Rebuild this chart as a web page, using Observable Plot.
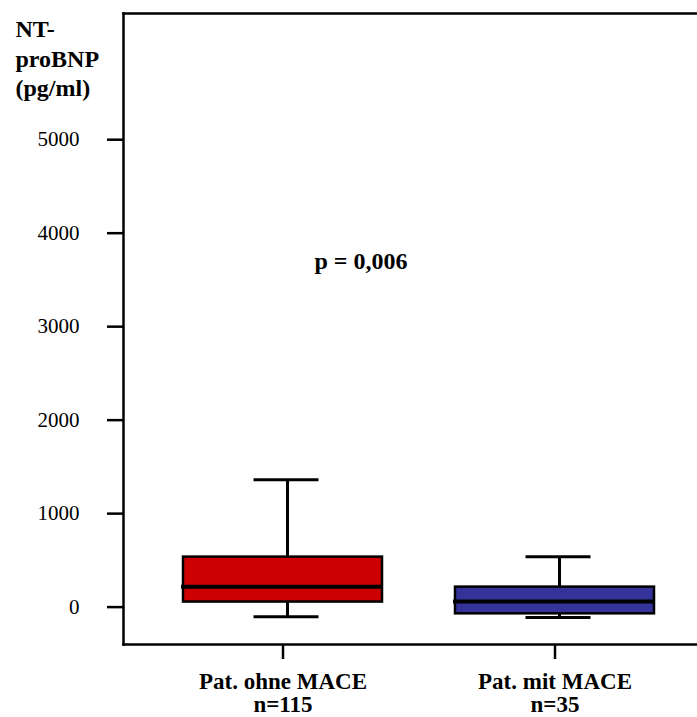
<!DOCTYPE html>
<html>
<head>
<meta charset="utf-8">
<script src="https://cdn.jsdelivr.net/npm/d3@7"></script>
<script src="https://cdn.jsdelivr.net/npm/@observablehq/plot@0.6"></script>
<style>
  html, body { margin: 0; padding: 0; background: #fff; }
</style>
</head>
<body>
<div id="chart"></div>
<script>
// NT-proBNP by outcome group: box plots (whiskers, quartiles, median)
const groups = ["Pat. ohne MACE", "Pat. mit MACE"];
const counts = [115, 35];
const whiskerLow = [-104, -110];
const q1 = [54, -72];
const median = [217, 61];
const q3 = [535, 214];
const whiskerHigh = [1363, 539];
const fills = ["#cc0000", "#333399"];
const yTicks = [0, 1000, 2000, 3000, 4000, 5000];
const yTitle = "NT-\nproBNP\n(pg/ml)";
const pLabel = "p = 0,006";

const rows = groups.map((g, i) => ({
  group: g, lo: whiskerLow[i], q1: q1[i], med: median[i], q3: q3[i], hi: whiskerHigh[i], fill: fills[i]
}));

const serif = "'Liberation Serif', 'Times New Roman', Times, serif";
const whiskerShift = 4.5;

const chart = Plot.plot({
  width: 697,
  height: 717,
  marginLeft: 123,
  marginRight: 0,
  marginTop: 13,
  marginBottom: 73,
  style: { fontFamily: serif, background: "white", color: "black" },
  x: { type: "band", domain: groups, paddingInner: 0.27, paddingOuter: 0.188, align: 0.58, axis: null },
  y: { domain: [-400, 6350], axis: null },
  marks: [
    // frame: left, top and bottom sides
    Plot.frame({ anchor: "left", stroke: "black", strokeWidth: 2.5 }),
    Plot.frame({ anchor: "top", stroke: "black", strokeWidth: 2.5 }),
    Plot.frame({ anchor: "bottom", stroke: "black", strokeWidth: 2.5 }),
    Plot.axisY({
      ticks: yTicks, tickSize: 16, tickPadding: 28, tickFormat: d => String(d),
      fontSize: 21, stroke: "black", fill: "black", strokeWidth: 2.5, label: null
    }),
    Plot.axisX({
      tickSize: 15, tickPadding: 13,
      tickFormat: d => `${d}\nn=${counts[groups.indexOf(d)]}`,
      fontSize: 23, fontWeight: "bold", lineHeight: 1.0,
      stroke: "black", fill: "black", strokeWidth: 2.5, label: null
    }),
    // whiskers
    Plot.ruleX(rows, { x: "group", y1: "q3", y2: "hi", dx: whiskerShift, stroke: "black", strokeWidth: 3 }),
    Plot.ruleX(rows, { x: "group", y1: "lo", y2: "q1", dx: whiskerShift, stroke: "black", strokeWidth: 3 }),
    Plot.tickY(rows, { x: "group", y: "hi", dx: whiskerShift, insetLeft: 66, insetRight: 68, stroke: "black", strokeWidth: 3 }),
    Plot.tickY(rows, { x: "group", y: "lo", dx: whiskerShift, insetLeft: 66, insetRight: 68, stroke: "black", strokeWidth: 3 }),
    // boxes (interquartile range)
    Plot.barY(rows, { x: "group", y1: "q1", y2: "q3", fill: d => d.fill, stroke: "black", strokeWidth: 2.5 }),
    // medians
    Plot.tickY(rows, { x: "group", y: "med", insetLeft: -2, stroke: "black", strokeWidth: 4 }),
    // group comparison
    Plot.text([pLabel], { x: () => groups[0], y: () => 3700, dx: 78, text: d => d, textAnchor: "middle", fontSize: 24, fontWeight: "bold", fill: "black" }),
    // y title
    Plot.text([yTitle], { frameAnchor: "top-left", dx: -108, dy: 3, text: d => d, textAnchor: "start", lineAnchor: "top", lineHeight: 1.22, fontSize: 24, fontWeight: "bold", fill: "black" })
  ]
});

document.getElementById("chart").appendChild(chart);
</script>
</body>
</html>
